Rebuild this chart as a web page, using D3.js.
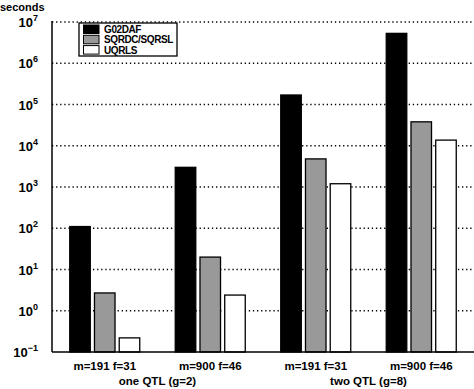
<!DOCTYPE html>
<html>
<head>
<meta charset="utf-8">
<script src="https://cdn.jsdelivr.net/npm/d3@7"></script>
<style>
  body { margin: 0; background: #fff; }
  svg text { font-family: "Liberation Sans", Arial, sans-serif; font-weight: bold; fill: #000; }
</style>
</head>
<body>
<div id="chart"></div>
<script>
'use strict'

// data
const groups = ['one QTL (g=2)', 'two QTL (g=8)']
const cases = ['m=191 f=31', 'm=900 f=46', 'm=191 f=31', 'm=900 f=46']
const methods = ['G02DAF', 'SQRDC/SQRSL', 'UQRLS']
const colors = ['#000000', '#999999', '#ffffff']
const g02daf = [110, 3000, 170000, 5300000]
const sqrdc = [2.7, 20, 4800, 38000]
const uqrls = [0.22, 2.4, 1200, 13700]
const yTicks = [-1, 0, 1, 2, 3, 4, 5, 6, 7]

const series = [g02daf, sqrdc, uqrls]

const svgWidth = 474
const svgHeight = 389
const margin = { left: 52, right: 0, top: 22, bottom: 37 }
const width = svgWidth - margin.left - margin.right
const height = svgHeight - margin.top - margin.bottom

const svg = d3.select('#chart')
    .append('svg')
    .attr('width', svgWidth)
    .attr('height', svgHeight)

const g = svg.append('g')
    .attr('transform', `translate(${margin.left},${margin.top})`)

// scales
const x = d3.scaleBand()
    .domain(d3.range(cases.length))
    .range([0, width])

const xInner = d3.scaleBand()
    .domain(d3.range(methods.length))
    .range([0, 70])
    .paddingInner(0.17)

const y = d3.scaleLog()
    .domain([0.1, 1e7])
    .range([height, 0])

// dotted grid
g.selectAll('.grid')
    .data(yTicks.filter(d => d > -1))
    .join('line')
    .attr('class', 'grid')
    .attr('x1', 0)
    .attr('x2', width)
    .attr('y1', d => y(Math.pow(10, d)))
    .attr('y2', d => y(Math.pow(10, d)))
    .attr('stroke', '#000')
    .attr('stroke-width', 1.3)
    .attr('stroke-dasharray', '1.3,2.8')

// bars
series.forEach((vals, s) => {
    g.selectAll(`.bar-${s}`)
        .data(vals)
        .join('rect')
        .attr('class', `bar-${s}`)
        .attr('x', (d, i) => x(i) + (x.bandwidth() - 70) / 2 + xInner(s))
        .attr('width', xInner.bandwidth())
        .attr('y', d => y(d))
        .attr('height', d => y(0.1) - y(d))
        .attr('fill', colors[s])
        .attr('stroke', '#000')
        .attr('stroke-width', 1.3)
})

// axes lines
g.append('line')
    .attr('x1', 0).attr('x2', 0)
    .attr('y1', -1).attr('y2', height)
    .attr('stroke', '#000').attr('stroke-width', 1.5)
g.append('line')
    .attr('x1', 0).attr('x2', width)
    .attr('y1', height).attr('y2', height)
    .attr('stroke', '#000').attr('stroke-width', 1.5)

// y tick labels 10^n
const yl = g.selectAll('.ylab')
    .data(yTicks)
    .join('text')
    .attr('class', 'ylab')
    .attr('x', -14)
    .attr('y', d => y(Math.pow(10, d)) + 5)
    .attr('text-anchor', 'end')
    .attr('font-size', '13px')
yl.append('tspan').text('10')
yl.append('tspan')
    .attr('dy', -6)
    .attr('font-size', '9px')
    .text(d => d < 0 ? '\u2212' + Math.abs(d) : d)

svg.append('text')
    .attr('x', 0)
    .attr('y', 11)
    .attr('font-size', '11px')
    .text('seconds')

// x labels
g.selectAll('.xlab')
    .data(cases)
    .join('text')
    .attr('class', 'xlab')
    .attr('x', (d, i) => x(i) + x.bandwidth() / 2)
    .attr('y', height + 18)
    .attr('text-anchor', 'middle')
    .attr('font-size', '11.5px')
    .text(d => d)

g.selectAll('.glab')
    .data(groups)
    .join('text')
    .attr('class', 'glab')
    .attr('x', (d, i) => x(i * 2 + 1))
    .attr('y', height + 33)
    .attr('text-anchor', 'middle')
    .attr('font-size', '11.5px')
    .text(d => d)

// legend
const legend = svg.append('g')
    .attr('transform', 'translate(79,23)')
legend.append('rect')
    .attr('width', 98).attr('height', 33)
    .attr('fill', '#fff')
    .attr('stroke', '#000').attr('stroke-width', 1.3)
methods.forEach((m, i) => {
    legend.append('rect')
        .attr('x', 4.5).attr('y', 2 + i * 10.3)
        .attr('width', 15.5).attr('height', 8.5)
        .attr('fill', colors[i])
        .attr('stroke', '#000').attr('stroke-width', 1)
    legend.append('text')
        .attr('x', 25).attr('y', 10 + i * 10.3)
        .attr('font-size', '10px')
        .attr('letter-spacing', '-0.4')
        .text(m)
})
</script>
</body>
</html>
